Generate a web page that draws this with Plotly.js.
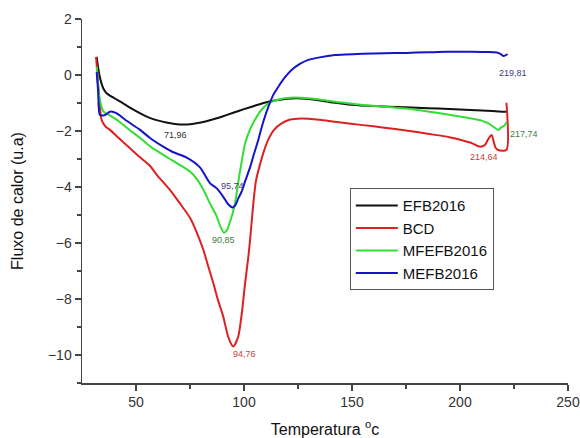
<!DOCTYPE html>
<html>
<head>
<meta charset="utf-8">
<script src="https://cdn.plot.ly/plotly-3.0.1.min.js"></script>
<style>html,body{margin:0;padding:0;background:#fff;}#chart{width:580px;height:438px;}</style>
</head>
<body>
<div id="chart"></div>
<script>
// ---- Data ----
const seriesNames = ["EFB2016", "BCD", "MFEFB2016", "MEFB2016"];

const efbT = [31.8, 32.4, 33.5, 35, 36.4, 40, 44, 48, 52, 56, 60, 64, 68, 72, 76, 80, 85, 90, 95, 100, 105, 110, 115, 120, 124, 130, 140, 150, 160, 170, 180, 190, 200, 210, 215, 220, 221.4];
const efbV = [0.65, 0.3, -0.15, -0.5, -0.65, -0.83, -1.01, -1.2, -1.37, -1.52, -1.62, -1.7, -1.75, -1.77, -1.75, -1.7, -1.6, -1.48, -1.35, -1.22, -1.1, -0.98, -0.9, -0.85, -0.83, -0.86, -0.97, -1.06, -1.11, -1.14, -1.17, -1.2, -1.23, -1.27, -1.29, -1.31, -1.31];

const bcdT = [31.5, 32.2, 33, 34.1, 36, 38, 42, 47, 52, 56.5, 60, 65.7, 70, 75, 78, 81.2, 83.5, 85.8, 88, 90.4, 92.7, 95, 97.3, 99, 100.5, 102, 102.8, 104.3, 105.5, 107.4, 109.3, 111.3, 114, 117.4, 121, 126.7, 135, 142, 155, 165, 175, 185, 195, 205, 209.3, 211.5, 213, 214.6, 215.5, 216.5, 217.7, 221.5, 221.5];
const bcdV = [0.65, 0.0, -0.9, -1.61, -1.85, -1.96, -2.25, -2.6, -2.95, -3.25, -3.6, -4.1, -4.55, -5.1, -5.6, -6.25, -6.85, -7.44, -8.05, -8.63, -9.35, -9.7, -9.35, -8.5, -7.44, -6.5, -5.9, -4.6, -3.8, -3.2, -2.7, -2.3, -1.95, -1.73, -1.6, -1.55, -1.6, -1.67, -1.79, -1.88, -1.98, -2.1, -2.22, -2.42, -2.56, -2.5, -2.3, -2.14, -2.35, -2.6, -2.68, -2.68, -0.99];

const mfeT = [31.8, 32.5, 33.3, 34.9, 38, 42, 46, 51.9, 56.5, 62.6, 65.7, 70, 75, 78, 81.2, 84, 87.4, 89, 90.7, 92, 93.5, 94.7, 95.8, 97.4, 98.9, 100.5, 102.5, 105, 108, 111.3, 115, 119, 123.6, 130, 140, 155, 165, 175, 185, 195, 205, 210, 213, 215.5, 217.7, 219, 220.8, 221.6];
const mfeV = [0.3, -0.4, -0.9, -1.3, -1.45, -1.65, -1.9, -2.25, -2.55, -2.85, -3.0, -3.2, -3.45, -3.7, -4.1, -4.55, -5.06, -5.4, -5.63, -5.55, -5.25, -4.95, -4.6, -3.8, -3.1, -2.45, -2.0, -1.61, -1.25, -1.01, -0.9, -0.83, -0.8, -0.83, -0.93, -1.07, -1.13, -1.2, -1.3, -1.42, -1.55, -1.63, -1.72, -1.85, -1.96, -1.88, -1.79, -1.68];

const mefT = [31.8, 32.5, 33.3, 35.6, 38, 41.1, 45, 51.9, 56.5, 62.6, 67, 73.5, 79.6, 84.3, 87.4, 90.4, 92.5, 94.7, 96, 97.4, 99, 100.5, 102.8, 104.5, 106.6, 109, 111.3, 113.5, 115.9, 119, 122, 125.5, 129.8, 135, 142.1, 155, 165, 175, 185, 193.8, 205, 212, 217, 219, 220, 221, 222];
const mefV = [0.1, -0.6, -1.43, -1.43, -1.31, -1.37, -1.6, -1.96, -2.25, -2.56, -2.75, -2.95, -3.3, -3.87, -4.05, -4.35, -4.6, -4.73, -4.65, -4.4, -4.15, -3.8, -3.3, -2.85, -2.32, -1.65, -1.13, -0.72, -0.42, -0.08, 0.18, 0.38, 0.54, 0.63, 0.71, 0.76, 0.78, 0.79, 0.81, 0.83, 0.83, 0.82, 0.8, 0.74, 0.68, 0.7, 0.75];

// Peak labels
const peakLabels = ["71,96", "95,74", "90,85", "94,76", "214,64", "217,74", "219,81"];
const peakLabelT = [68.5, 94.9, 90.7, 100, 211.1, 229.6, 224.5];
const peakLabelV = [-2.14, -3.96, -5.89, -9.96, -2.93, -2.11, 0.07];
const peakLabelColors = ["#333333", "#3a3a8a", "#3d7d3d", "#c83c3c", "#c83c3c", "#3d7d3d", "#3a3a8a"];

const lineColors = ["#111111", "#dd2020", "#33dd33", "#1414c8"];

const xs = [efbT, bcdT, mfeT, mefT];
const ys = [efbV, bcdV, mfeV, mefV];

const traces = seriesNames.map((n, i) => ({
  x: xs[i], y: ys[i], name: n, type: "scatter", mode: "lines",
  line: {color: lineColors[i], width: 2, shape: "spline", smoothing: 0.7}
}));

const annotations = peakLabels.map((t, i) => ({
  text: t, x: peakLabelT[i], y: peakLabelV[i], xref: "x", yref: "y",
  showarrow: false, font: {family: "Arial, Liberation Sans, sans-serif", size: 9, color: peakLabelColors[i]}
}));

const axisCommon = {
  showgrid: false, zeroline: false, showline: true, linecolor: "#444", linewidth: 1.5,
  ticks: "outside", ticklen: 6, tickwidth: 1.5, tickcolor: "#444",
  tickfont: {family: "Arial, Liberation Sans, sans-serif", size: 14, color: "#333"},
  mirror: false
};

const layout = {
  width: 580, height: 438,
  margin: {l: 82, r: 12, t: 19, b: 55},
  paper_bgcolor: "#fff", plot_bgcolor: "#fff",
  showlegend: true,
  legend: {
    x: 0.551, y: 0.535, xanchor: "left", yanchor: "top",
    bgcolor: "#fff", bordercolor: "#555", borderwidth: 1,
    font: {family: "Arial, Liberation Sans, sans-serif", size: 15, color: "#111"},
    itemwidth: 42, tracegroupgap: 0
  },
  xaxis: Object.assign({}, axisCommon, {
    range: [25, 250], tickvals: [50, 100, 150, 200, 250],
    minor: {tickvals: [75, 125, 175, 225], ticks: "outside", ticklen: 4, tickwidth: 1.5, tickcolor: "#444"},
    title: {text: "Temperatura <sup>o</sup>c", font: {family: "Arial, Liberation Sans, sans-serif", size: 16, color: "#111"}, standoff: 14}
  }),
  yaxis: Object.assign({}, axisCommon, {
    range: [-11, 2], tickvals: [-10, -8, -6, -4, -2, 0, 2],
    minor: {tickvals: [-11, -9, -7, -5, -3, -1, 1], ticks: "outside", ticklen: 4, tickwidth: 1.5, tickcolor: "#444"},
    title: {text: "Fluxo de calor (u.a)", font: {family: "Arial, Liberation Sans, sans-serif", size: 16, color: "#111"}, standoff: 20}
  }),
  annotations: annotations
};

Plotly.newPlot("chart", traces, layout, {staticPlot: true, displayModeBar: false});
</script>
</body>
</html>
